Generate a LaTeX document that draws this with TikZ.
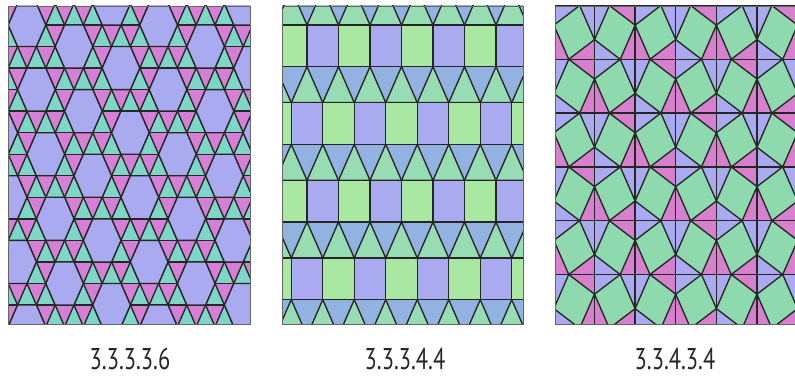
\documentclass[tikz,border=0pt]{standalone}
\usepackage{fontspec}
\setmainfont{PT Sans}
\usepackage{tikz}
\definecolor{Lav}{HTML}{AAAAF0}
\definecolor{TriTeal}{HTML}{7DD6C6}
\definecolor{TriPink}{HTML}{D580D6}
\definecolor{SqGreen}{HTML}{A8E8A2}
\definecolor{TriBlue}{HTML}{92B2E2}
\definecolor{TriGreen}{HTML}{98DCB4}
\definecolor{SnubGreen}{HTML}{8ED9AE}
\definecolor{SnubPink}{HTML}{D680CE}
\tikzset{
  tileline/.style={draw=black!85,line width=1.35pt,line join=round},
  panelbox/.style={draw=black!60,line width=0.9pt},
  tilelabel/.style={font=\fontsize{30}{30}\selectfont,text=black!85,xscale=0.75,
    anchor=base,inner sep=0pt,text depth=0pt}
}

\begin{document}
\begin{tikzpicture}[x=1pt,y=1pt]
  \useasboundingbox (0,0) rectangle (795,378);
  % 3.3.3.3.6
  \begin{scope}
    \clip (8,54) rectangle (250,372);
    \fill[TriPink] (8,54) rectangle (250,372);
    \begin{scope}[shift={(27pt,353pt)},x=18.8pt,y=-21.54pt]
      \foreach \b in {-2,...,15}
        \foreach \j in {-10,...,16}
          \fill[TriTeal] ({\j+\b/2},\b) -- ({\j+\b/2-0.5},\b+1) -- ({\j+\b/2+0.5},\b+1) -- cycle;
      \foreach \b in {-2,...,16}
        \draw[tileline] (-4,\b) -- (15,\b);
      \foreach \d in {-14,...,22}
      {
        \draw[tileline] (\d-1,-2) -- (\d+8,16);
        \draw[tileline] (\d+1,-2) -- (\d-8,16);
      }
      \foreach \m in {-4,...,12}
        \foreach \n in {-8,...,6}
          \draw[tileline,fill=Lav] ({2.5*\m+2*\n-1},\m-2*\n) -- ++(0.5,-1) -- ++(1,0)
            -- ++(0.5,1) -- ++(-0.5,1) -- ++(-1,0) -- cycle;
    \end{scope}
  \end{scope}
  \draw[panelbox] (8,54) rectangle (250,372);
  % 3.3.3.4.4
  \begin{scope}
    \clip (282,54) rectangle (523,372);
    \begin{scope}[shift={(0pt,378pt)},y=-1pt]
      \fill[TriBlue] (282,0) rectangle (523,330);
      \foreach \r in {0,...,4}
      {
        \pgfmathsetmacro\yt{25+77.67*\r}
        \pgfmathsetmacro\xo{307-15.75*mod(\r,2)}
        \foreach \i in {-2,...,8}
          \draw[tileline,fill=TriGreen] ({\xo+31.5*\i},\yt) -- ++(31.5,0) -- ++(-15.75,-36) -- cycle;
        \foreach \i in {-2,...,8}
        {
          \ifodd\i \def\sqcol{SqGreen}\else \def\sqcol{Lav}\fi
          \draw[tileline,fill=\sqcol] ({\xo+31.5*\i},\yt) rectangle ++(31.5,41.6);
        }
      }
    \end{scope}
  \end{scope}
  \draw[panelbox] (282,54) rectangle (523,372);
  % 3.3.4.3.4
  \begin{scope}
    \clip (555,54) rectangle (795,372);
    \fill[Lav] (555,54) rectangle (795,372);
    \begin{scope}[shift={(594.5pt,318.7pt)},x=0.755pt]
      \foreach \i in {-2,...,6}
        \foreach \j in {-7,...,2}
        {
          \pgfmathtruncatemacro\jpar{mod(abs(\i+\j),2)}
          \ifnum\jpar=0
            \fill[SnubPink] ({53.8*\i},{53.8*\j+19.7}) -- ++(0,-39.4) -- ++(-34.12,19.7) -- cycle;
          \else
            \fill[SnubPink] ({53.8*\i-19.7},{53.8*\j}) -- ++(39.4,0) -- ++(-19.7,34.12) -- cycle;
          \fi
        }
      \foreach \i in {-2,...,6}
        \draw[tileline] ({53.8*\i},-420) -- ({53.8*\i},160);
      \foreach \j in {-7,...,2}
        \draw[tileline] (-160,{53.8*\j}) -- (420,{53.8*\j});
      \foreach \m in {-2,...,6}
        \foreach \n in {-7,...,2}
        {
          \pgfmathtruncatemacro\jpar{mod(abs(\m+\n),2)}
          \pgfmathsetmacro\ang{\jpar==0 ? 15 : -15}
          \begin{scope}[shift={({53.8*\m+26.9},{53.8*\n+26.9})}]
            \draw[tileline,fill=SnubGreen] (\ang:27.86) -- (\ang+90:27.86)
              -- (\ang+180:27.86) -- (\ang+270:27.86) -- cycle;
          \end{scope}
        }
    \end{scope}
  \end{scope}
  \draw[panelbox] (555,54) rectangle (795,372);
  \node[tilelabel] (labA) at (130,9) {3.3.3.3.6};
  \node[tilelabel] (labB) at (405,9) {3.3.3.4.4};
  \node[tilelabel] (labC) at (675,9) {3.3.4.3.4};
\end{tikzpicture}
\end{document}
